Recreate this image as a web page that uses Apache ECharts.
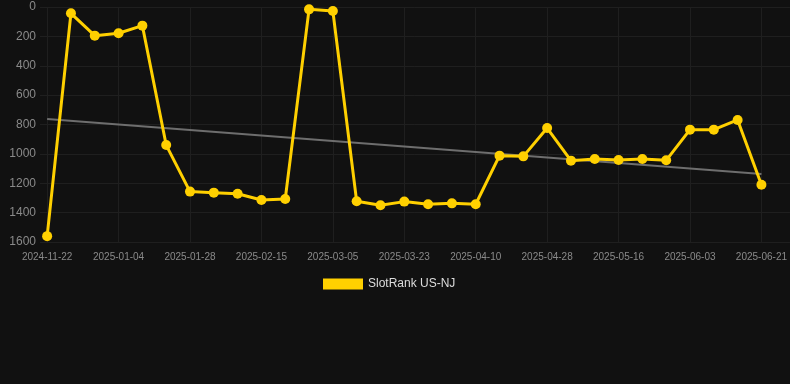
<!DOCTYPE html>
<html>
<head>
<meta charset="utf-8">
<script src="https://cdn.jsdelivr.net/npm/echarts@6/dist/echarts.min.js"></script>
<style>
html, body { margin: 0; padding: 0; background: #111111; }
#main { width: 790px; height: 384px; }
</style>
</head>
<body>
<div id="main"></div>
<script>
var dates = ['2024-11-22', '2024-12-08', '2024-12-22', '2025-01-04', '2025-01-12', '2025-01-20',
	'2025-01-28', '2025-02-03', '2025-02-09', '2025-02-15', '2025-02-21', '2025-02-27',
	'2025-03-05', '2025-03-11', '2025-03-17', '2025-03-23', '2025-03-29', '2025-04-04',
	'2025-04-10', '2025-04-16', '2025-04-22', '2025-04-28', '2025-05-04', '2025-05-10',
	'2025-05-16', '2025-05-22', '2025-05-28', '2025-06-03', '2025-06-09', '2025-06-15',
	'2025-06-21'];
var rank = [1560, 43, 195, 179, 127, 940, 1257, 1264, 1271, 1314, 1307, 16, 27, 1323, 1350,
	1325, 1343, 1337, 1343, 1012, 1017, 824, 1046, 1035, 1042, 1035, 1044, 835, 835, 769, 1210];
var trendEnds = [762, 1137]; //趋势线首尾
var rankTicks = [0, 200, 400, 600, 800, 1000, 1200, 1400, 1600];
var labelIdx = [0, 3, 6, 9, 12, 15, 18, 21, 24, 27, 30];

var rankData = [];
for(var i = 0; i < rank.length; i++) {
	rankData.push([i, rank[i]]);
}
var trendData = [[0, trendEnds[0]], [rank.length - 1, trendEnds[1]]];

var myChart = echarts.init(document.getElementById('main'));
var option = {
	backgroundColor: '#111111',
	animation: false,
	grid: {
		left: 40,
		right: 0,
		top: 7,
		bottom: 142
	},
	legend: {
		show: true,
		top: 273,
		left: 318,
		itemWidth: 40,
		itemHeight: 11,
		itemGap: 10,
		data: [{ name: 'SlotRank US-NJ', icon: 'rect' }],
		textStyle: {
			color: '#dddddd',
			fontSize: 12,
			fontFamily: 'Arial, Liberation Sans, sans-serif'
		}
	},
	xAxis: {
		type: 'value',
		min: -0.3,
		max: 31.2,
		axisLine: { show: false },
		axisTick: { show: false, customValues: labelIdx },
		axisLabel: {
			customValues: labelIdx,
			color: '#8a8a8a',
			fontSize: 10,
			fontFamily: 'Arial, Liberation Sans, sans-serif',
			margin: 10,
			formatter: function(v) {
				return dates[Math.round(v)] || '';
			}
		},
		splitLine: {
			show: true,
			lineStyle: { color: '#1f1f1f', width: 1 }
		}
	},
	yAxis: {
		type: 'value',
		inverse: true,
		min: rankTicks[0],
		max: rankTicks[rankTicks.length - 1],
		interval: 200,
		axisLine: { show: false },
		axisTick: { show: false },
		axisLabel: {
			color: '#8a8a8a',
			fontSize: 12,
			fontFamily: 'Arial, Liberation Sans, sans-serif',
			margin: 4,
			formatter: function(v) {
				return String(v);
			}
		},
		splitLine: {
			show: true,
			lineStyle: { color: '#1f1f1f', width: 1 }
		}
	},
	series: [{
		name: 'trend',
		type: 'line',
		data: trendData,
		symbol: 'none',
		silent: true,
		lineStyle: { color: '#6e6e6e', width: 2 },
		z: 1
	}, {
		name: 'SlotRank US-NJ',
		type: 'line',
		data: rankData,
		symbol: 'circle',
		symbolSize: 10,
		itemStyle: { color: '#FFD000' },
		lineStyle: { color: '#FFD000', width: 3 },
		z: 2
	}]
};
myChart.setOption(option);
</script>
</body>
</html>
